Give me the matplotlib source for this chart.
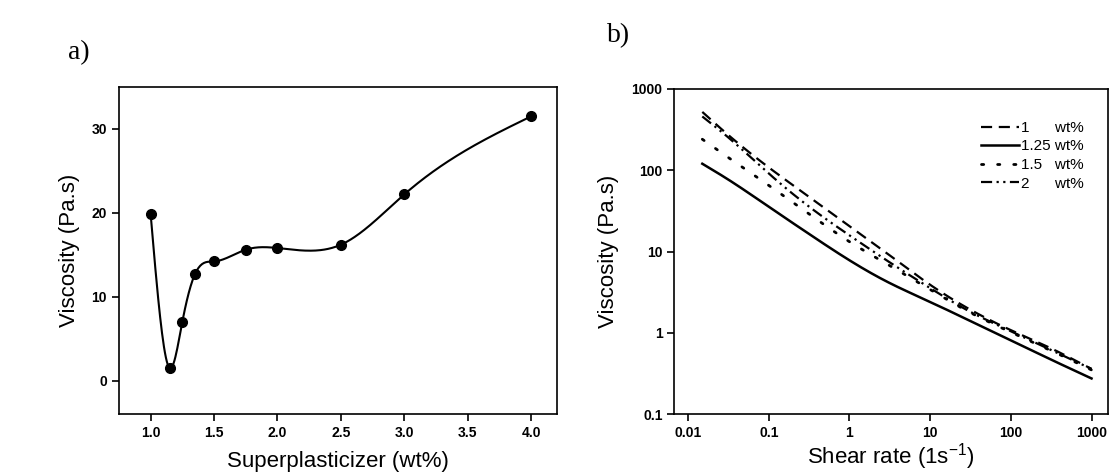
import numpy as np
import matplotlib
matplotlib.use("Agg")
import matplotlib.pyplot as plt

plt.rcParams['font.family'] = ['Liberation Sans', 'DejaVu Sans']
plt.rcParams['mathtext.default'] = 'regular'

# panel a) viscosity vs superplasticizer content
sp_content = [1.0, 1.15, 1.25, 1.35, 1.5, 1.75, 2.0, 2.5, 3.0, 4.0]
sp_visc = [19.9, 1.5, 7.0, 12.7, 14.2, 15.6, 15.8, 16.2, 22.2, 31.5]

# panel b) flow curves
shear_rate = [0.015, 0.03, 0.1, 0.3, 1, 3, 10, 30, 100, 300, 1000]
visc_1 = [520, 282, 108, 48.7, 20.4, 9.3, 3.9, 1.98, 1.08, 0.66, 0.36]
visc_125 = [120, 79, 35.5, 17, 7.8, 4.2, 2.4, 1.43, 0.81, 0.48, 0.275]
visc_15 = [240, 148, 65, 30, 13.2, 6.9, 3.4, 1.82, 1.02, 0.62, 0.35]
visc_2 = [457, 263, 91, 37, 15.8, 7.6, 3.55, 1.86, 1.05, 0.63, 0.36]
legend_labels = ['1      wt%', '1.25 wt%', '1.5   wt%', '2      wt%']


def natural_spline(x, y, n=400):
    # natural cubic spline, only used to draw the smooth connecting line
    x = np.asarray(x, float)
    y = np.asarray(y, float)
    k = len(x)
    h = np.diff(x)
    A = np.zeros((k, k))
    b = np.zeros(k)
    A[0, 0] = A[-1, -1] = 1
    for i in range(1, k - 1):
        A[i, i - 1] = h[i - 1]
        A[i, i] = 2 * (h[i - 1] + h[i])
        A[i, i + 1] = h[i]
        b[i] = 6 * ((y[i + 1] - y[i]) / h[i] - (y[i] - y[i - 1]) / h[i - 1])
    M = np.linalg.solve(A, b)
    xs = np.linspace(x[0], x[-1], n)
    idx = np.clip(np.searchsorted(x, xs) - 1, 0, k - 2)
    x0, x1 = x[idx], x[idx + 1]
    hh = x1 - x0
    ys = (M[idx] * (x1 - xs) ** 3 / (6 * hh) + M[idx + 1] * (xs - x0) ** 3 / (6 * hh)
          + (y[idx] / hh - M[idx] * hh / 6) * (x1 - xs)
          + (y[idx + 1] / hh - M[idx + 1] * hh / 6) * (xs - x0))
    return xs, ys


def loglog_curve(x, y):
    lx, ly = natural_spline(np.log10(x), np.log10(y))
    return 10 ** lx, 10 ** ly


fig = plt.figure(figsize=(11.11, 4.75), dpi=100)
ax1 = fig.add_axes([0.107, 0.128, 0.394, 0.689])
ax2 = fig.add_axes([0.607, 0.128, 0.390, 0.685])

for ax in (ax1, ax2):
    for s in ax.spines.values():
        s.set_linewidth(1.2)
    ax.tick_params(direction='out', length=5, width=1.2, labelsize=10,
                   top=False, right=False, which='major')
    ax.tick_params(which='minor', length=0)

# a)
xs, ys = natural_spline(sp_content, sp_visc)
ax1.plot(xs, ys, color='black', lw=1.5)
ax1.plot(sp_content, sp_visc, 'o', color='black', ms=7)
ax1.set_xlim(0.75, 4.2)
ax1.set_ylim(-4, 35)
ax1.set_xticks([1.0, 1.5, 2.0, 2.5, 3.0, 3.5, 4.0])
ax1.set_xticklabels(['1.0', '1.5', '2.0', '2.5', '3.0', '3.5', '4.0'], fontweight='bold')
ax1.set_yticks([0, 10, 20, 30])
ax1.set_yticklabels(['0', '10', '20', '30'], fontweight='bold')
ax1.set_xlabel('Superplasticizer (wt%)', fontsize=16, labelpad=8)
ax1.set_ylabel('Viscosity (Pa.s)', fontsize=16, labelpad=8)

# b)
ax2.plot(*loglog_curve(shear_rate, visc_1), color='black', lw=1.6, dashes=(5, 3),
         label=legend_labels[0])
ax2.plot(*loglog_curve(shear_rate, visc_125), color='black', lw=1.8, label=legend_labels[1])
ax2.plot(*loglog_curve(shear_rate, visc_15), color='black', lw=2.0, dashes=(0.8, 5),
         dash_capstyle='round', label=legend_labels[2])
ax2.plot(*loglog_curve(shear_rate, visc_2), color='black', lw=1.6, dashes=(5, 2, 1, 2, 1, 2),
         label=legend_labels[3])
ax2.set_xscale('log')
ax2.set_yscale('log')
ax2.set_xlim(10 ** -2.17, 10 ** 3.2)
ax2.set_ylim(0.1, 1000)
ax2.set_xticks([0.01, 0.1, 1, 10, 100, 1000])
ax2.set_xticklabels(['0.01', '0.1', '1', '10', '100', '1000'], fontweight='bold')
ax2.set_yticks([0.1, 1, 10, 100, 1000])
ax2.set_yticklabels(['0.1', '1', '10', '100', '1000'], fontweight='bold')
ax2.set_xlabel('Shear rate (1s$^{-1}$)', fontsize=16, labelpad=1)
ax2.set_ylabel('Viscosity (Pa.s)', fontsize=16, labelpad=9)
ax2.legend(loc='upper right', bbox_to_anchor=(0.962, 0.925), frameon=False, fontsize=11,
           handlelength=2.5, handletextpad=0.1, labelspacing=0.3, borderpad=0)

fig.text(68 / 1111, 1 - 53 / 475, 'a)', family='Liberation Serif', fontsize=20, va='center')
fig.text(607 / 1111, 1 - 36 / 475, 'b)', family='Liberation Serif', fontsize=20, va='center')

fig.savefig('out.png', dpi=100)
